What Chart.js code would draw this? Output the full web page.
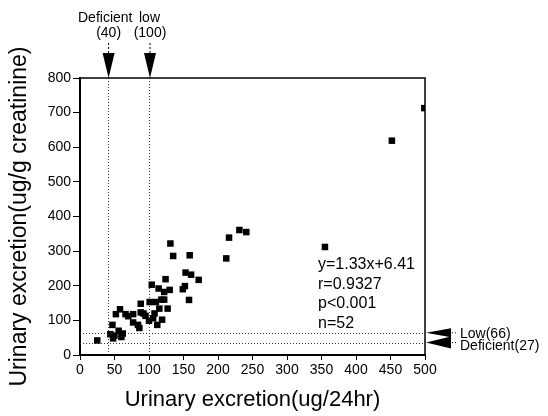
<!DOCTYPE html>
<html>
<head>
<meta charset="utf-8">
<script src="https://cdn.jsdelivr.net/npm/chart.js@4"></script>
<style>
  html, body { margin: 0; padding: 0; background: #fff; }
  #wrap { width: 548px; height: 416px; }
</style>
</head>
<body>
<div id="wrap"><canvas id="chart" width="548" height="416"></canvas></div>
<script>
// readings taken off the figure
const xValues = [25, 44, 48, 47, 52, 58, 66, 56, 62, 60, 77, 88, 88, 95, 77, 84, 86, 100, 106, 104,
    101, 110, 114, 122, 124, 130, 115, 122, 127, 119, 112, 131, 135, 149, 152, 153, 161, 158, 159, 172,
    212, 216, 231, 241, 355, 452, 499, 50, 70, 92, 108, 118];
const yValues = [42, 60, 48, 87, 118, 132, 118, 70, 62, 52, 118, 148, 123, 113, 94, 87, 78, 99, 106, 203,
    153, 153, 192, 182, 219, 188, 134, 160, 134, 102, 87, 322, 286, 190, 199, 238, 232, 159, 288, 217,
    279, 339, 361, 355, 312, 619, 713, 56, 112, 120, 120, 160];

// reference cut-offs (lines sit where the figure draws them)
const refX = [40, 100];
const refXNames = ['Deficient', 'low'];
const refXLabels = ['(40)', '(100)'];
const refY = [64, 36];
const refYLabels = ['Low(66)', 'Deficient(27)'];
const statsLines = ['y=1.33x+6.41', 'r=0.9327', 'p<0.001', 'n=52'];

const FONT = "'Liberation Sans', Arial, sans-serif";

function dotted(ctx, x1, y1, x2, y2) {
    ctx.beginPath();
    ctx.moveTo(x1, y1);
    ctx.lineTo(x2, y2);
    ctx.stroke();
}

const refLinesPlugin = {
    id: 'refLines',
    beforeDatasetsDraw(chart) {
        const { ctx, chartArea: a, scales: { x, y } } = chart;
        ctx.save();
        ctx.strokeStyle = '#333';
        ctx.lineWidth = 1;
        ctx.setLineDash([1, 2]);
        refX.forEach(v => {
            const px = Math.round(x.getPixelForValue(v)) + 0.5;
            dotted(ctx, px, a.top, px, a.bottom);
        });
        refY.forEach(v => {
            const py = Math.round(y.getPixelForValue(v)) + 0.5;
            dotted(ctx, a.left, py, a.right, py);
        });
        ctx.restore();
    },
    afterDraw(chart) {
        const { ctx, chartArea: a, scales: { x, y } } = chart;
        ctx.save();

        // top and right frame
        ctx.strokeStyle = '#000';
        ctx.lineWidth = 1.5;
        ctx.beginPath();
        ctx.moveTo(a.left, a.top);
        ctx.lineTo(a.right, a.top);
        ctx.lineTo(a.right, a.bottom);
        ctx.stroke();

        // top arrows + labels
        ctx.fillStyle = '#000';
        ctx.font = '14px ' + FONT;
        ctx.textAlign = 'center';
        ctx.textBaseline = 'middle';
        refX.forEach((v, i) => {
            const px = x.getPixelForValue(v) + 1;
            ctx.beginPath();
            ctx.moveTo(px - 6, a.top - 25);
            ctx.lineTo(px + 6, a.top - 25);
            ctx.lineTo(px, a.top);
            ctx.closePath();
            ctx.fill();
            ctx.save();
            ctx.lineWidth = 1;
            ctx.setLineDash([2, 2]);
            dotted(ctx, px, a.top - 35, px, a.top - 25);
            ctx.restore();
            ctx.fillText(refXLabels[i], px, 33);
        });
        ctx.textAlign = 'left';
        ctx.fillText(refXNames[0], 78, 18);
        ctx.fillText(refXNames[1], 139, 18);

        // right arrows + labels
        refY.forEach((v, i) => {
            const py = y.getPixelForValue(v);
            const h = i === 0 ? 4.5 : 6;
            ctx.beginPath();
            ctx.moveTo(a.right + 1, py);
            ctx.lineTo(a.right + 26, py - h);
            ctx.lineTo(a.right + 26, py + h);
            ctx.closePath();
            ctx.fill();
            ctx.save();
            ctx.lineWidth = 1;
            ctx.setLineDash([1, 2]);
            dotted(ctx, a.right + 27, py, a.right + 33, py);
            ctx.restore();
            ctx.fillText(refYLabels[i], a.right + 35, py + (i === 0 ? 1 : 4));
        });

        // regression stats
        ctx.font = '16px ' + FONT;
        statsLines.forEach((t, i) => {
            ctx.fillText(t, 318, 265 + i * 19.5);
        });
        ctx.restore();
    }
};

new Chart(document.getElementById('chart'), {
    type: 'scatter',
    data: {
        datasets: [{
            data: xValues.map((v, i) => ({ x: v, y: yValues[i] })),
            pointStyle: 'rect',
            pointRadius: 4.6,
            pointHoverRadius: 4.6,
            backgroundColor: '#000',
            borderColor: '#000',
            borderWidth: 0
        }]
    },
    options: {
        responsive: false,
        animation: false,
        layout: { padding: { top: 78, right: 123, left: 0, bottom: 0 } },
        plugins: {
            legend: { display: false },
            tooltip: { enabled: false }
        },
        scales: {
            x: {
                type: 'linear',
                min: 0,
                max: 500,
                ticks: { stepSize: 50, color: '#000', font: { family: FONT, size: 14 }, padding: 2, maxRotation: 0 },
                grid: { drawOnChartArea: false, drawTicks: true, tickLength: 5, color: '#000' },
                border: { display: true, color: '#000', width: 2 },
                title: { display: true, text: 'Urinary excretion(ug/24hr)', color: '#000',
                    font: { family: FONT, size: 22 }, padding: { top: 0, bottom: 3 } },
                afterFit(scale) { scale.height = 61; }
            },
            y: {
                type: 'linear',
                min: 0,
                max: 800,
                ticks: { stepSize: 100, color: '#000', font: { family: FONT, size: 14 }, padding: 2 },
                grid: { drawOnChartArea: false, drawTicks: true, tickLength: 7, color: '#000' },
                border: { display: true, color: '#000', width: 2 },
                title: { display: true, text: 'Urinary excretion(ug/g creatinine)', color: '#000',
                    font: { family: FONT, size: 23 }, padding: { top: 6, bottom: 0 } },
                afterFit(scale) { scale.width = 80; }
            }
        }
    },
    plugins: [refLinesPlugin]
});
</script>
</body>
</html>
